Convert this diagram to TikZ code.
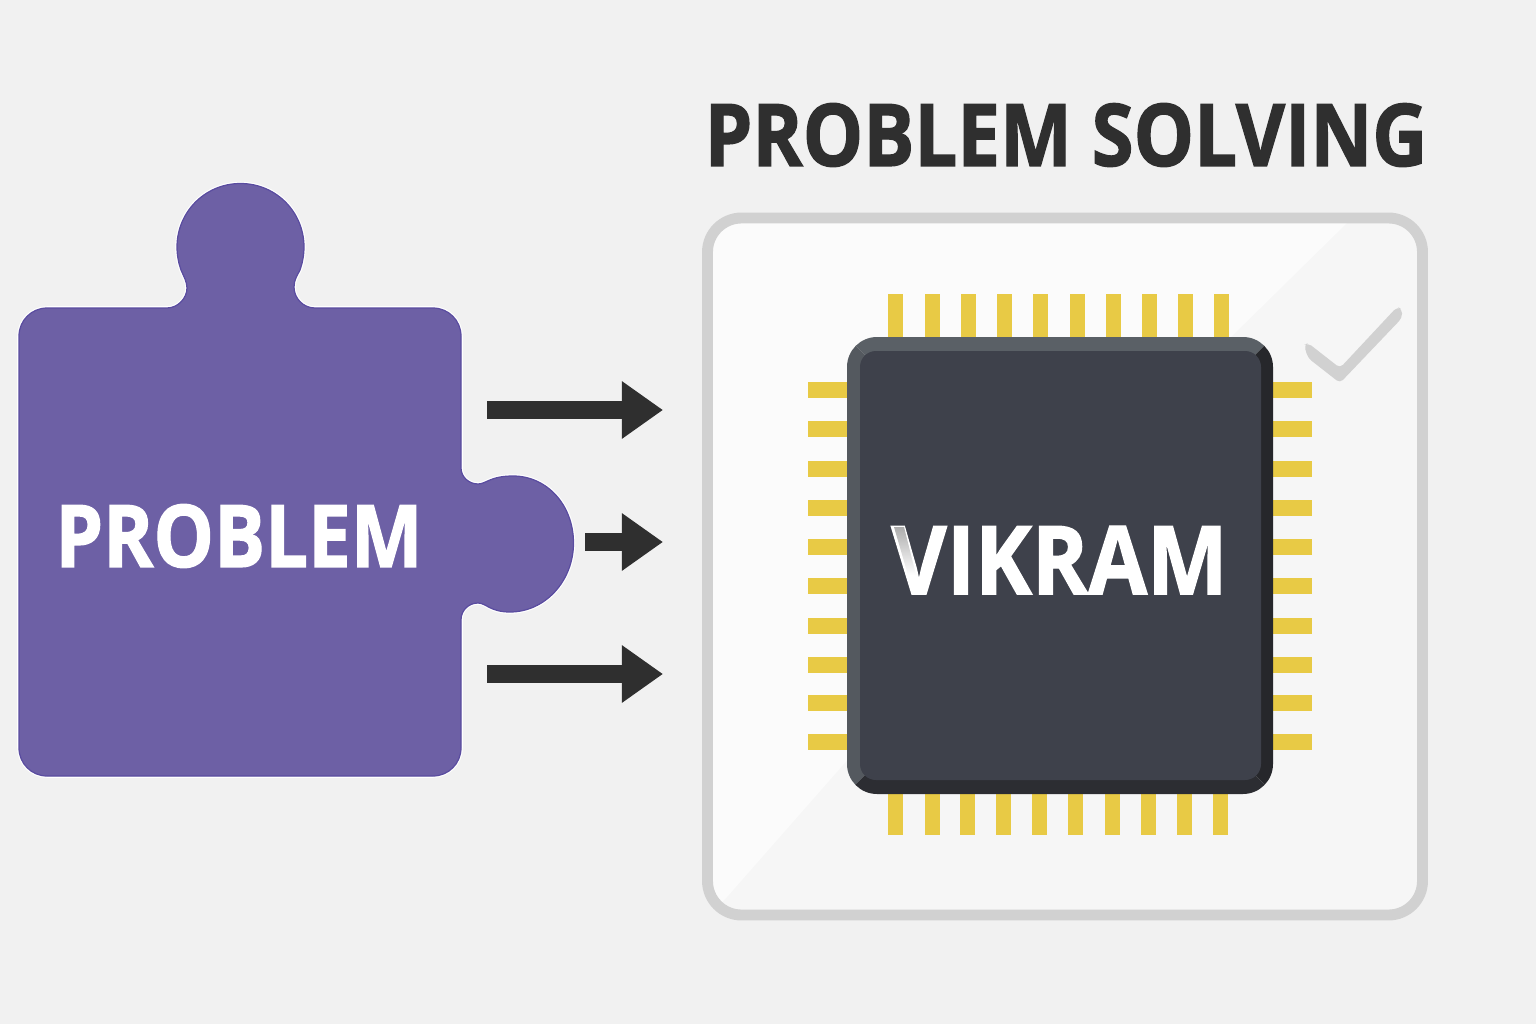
\documentclass[tikz,border=0pt]{standalone}
\usepackage{fontspec}
\setmainfont[BoldFeatures={FakeBold=1.5}]{Open Sans}
\usetikzlibrary{arrows.meta}
\definecolor{pagegray}{HTML}{F1F1F1}
\definecolor{framegray}{HTML}{D1D1D1}
\definecolor{panellow}{HTML}{F6F6F6}
\definecolor{panelhigh}{HTML}{FBFBFB}
\definecolor{puzzlefill}{HTML}{6D60A5}
\definecolor{puzzleedge}{HTML}{5A4CA0}
\definecolor{inkdark}{HTML}{2F2F2F}
\definecolor{pingold}{HTML}{E8CA45}
\definecolor{chipface}{HTML}{3E414B}
\definecolor{bevelup}{HTML}{5A6066}
\definecolor{bevelleft}{HTML}{54595F}
\definecolor{bevelright}{HTML}{26272B}
\definecolor{bevellow}{HTML}{2C2D32}
\tikzset{
  pinbar/.style={fill=pingold},
  puzzlepiece/.style={fill=puzzlefill,draw=puzzleedge,line width=0.35pt,
    preaction={draw=white,line width=1pt}},
  flowarrow/.style={draw=inkdark,line width=4.84pt,
    -{Triangle[length=11.7pt,width=15.6pt,fill=inkdark]}},
  bigtext/.style={font=\bfseries\fontsize{#1}{#1}\selectfont,inner sep=0pt},
}
\begin{document}
\begin{tikzpicture}[x=0.01cm,y=-0.01cm]
\useasboundingbox (0,0) rectangle (1536,1024);
\fill[pagegray] (0,0) rectangle (1536,1024);

% puzzle piece
\path[puzzlepiece] (47,308) -- (167,308)
  .. controls (178,308) and (187,298) .. (187,288)
  .. controls (187,282) and (184,277) .. (181,270)
  .. controls (178.5,263) and (177,255) .. (177,247)
  .. controls (177,212) and (205,183.5) .. (240.5,183.5)
  .. controls (276,183.5) and (304,212) .. (304,247)
  .. controls (304,255) and (302.5,263) .. (300,270)
  .. controls (297,276) and (294,280) .. (294,287)
  .. controls (294,298) and (303,308) .. (315,308)
  -- (433,308) .. controls (448.5,308) and (461,320.5) .. (461,336)
  -- (461,468)
  .. controls (461,477) and (469,484) .. (478,484)
  .. controls (486,484) and (490,476) .. (513,476)
  .. controls (547,476) and (573.5,505) .. (573.5,543)
  .. controls (573.5,581) and (545,612) .. (510,612)
  .. controls (490,612) and (486,603) .. (478,603)
  .. controls (469,603) and (461,610) .. (461,620)
  -- (461,748) .. controls (461,763.5) and (448.5,776) .. (433,776)
  -- (47,776) .. controls (31.5,776) and (19,763.5) .. (19,748)
  -- (19,336) .. controls (19,320.5) and (31.5,308) .. (47,308) -- cycle;
\node[bigtext=24.6pt,text=white] (problem) at (239,536) {\scalebox{0.88}[1]{PROBLEM}};

% arrows
\coordinate (a1) at (487,410);
\coordinate (b1) at (663,410);
\coordinate (a2) at (585,542);
\coordinate (b2) at (663,542);
\coordinate (a3) at (487,674);
\coordinate (b3) at (663,674);
\foreach \from/\to in {a1/b1,a2/b2,a3/b3}
\draw[flowarrow] (\from) -- (\to);

\node[bigtext=24.6pt,text=inkdark] (title) at (1066,135) {\scalebox{0.88}[1]{PROBLEM SOLVING}};

% panel
\fill[panellow,rounded corners=0.34cm] (707.5,218) rectangle (1422.5,915);
\begin{scope}
\clip[rounded corners=0.34cm] (707.5,218) rectangle (1422.5,915);
\fill[panelhigh] (700,210) -- (1352,218) -- (1230,338) -- (843,765) -- (727,897) -- (700,925) -- cycle;
\end{scope}
\draw[framegray,line width=3.1pt,rounded corners=0.34cm] (707.5,218) rectangle (1422.5,915);

% tick
\fill[framegray,rounded corners=1.2pt] (1304,345) -- (1308,343) -- (1340,368) -- (1397,307) -- (1402,309) -- (1402,318) -- (1340,383) -- (1308,358) -- cycle;

% pins
\foreach \px in {888,925,961,997,1033,1070,1106,1142,1178,1214}
\fill[pinbar] (\px,294) rectangle ++(15,46);
\foreach \px in {888,925,960,996,1032,1068,1105,1141,1177,1213}
\fill[pinbar] (\px,790) rectangle ++(15,45);
\foreach \py in {390,429,469,508,547,586,626,665,703,742} {
\fill[pinbar] (808,\py-8) rectangle (852,\py+8);
\fill[pinbar] (1268,\py-8) rectangle (1312,\py+8);
}

% chip
\begin{scope}
\clip[rounded corners=0.3cm] (847,337) rectangle (1273,794);
\fill[bevelup] (840,330) -- (1280,330) -- (1250,360) -- (870,360) -- cycle;
\fill[bevelleft] (840,330) -- (870,360) -- (870,770) -- (840,800) -- cycle;
\fill[bevelright] (1280,330) -- (1250,360) -- (1250,770) -- (1280,800) -- cycle;
\fill[bevellow] (840,800) -- (870,770) -- (1250,770) -- (1280,800) -- cycle;
\end{scope}
\fill[chipface,rounded corners=0.16cm] (860,351) rectangle (1261,780);
\node[bigtext=27pt,text=white] (vikram) at (1059.5,560) {\scalebox{0.9}[1]{VIKRAM}};
\shade[top color=black!32,bottom color=white] (894,527) -- (904,527) -- (916,575) -- (908,575) -- cycle;
\end{tikzpicture}
\end{document}
